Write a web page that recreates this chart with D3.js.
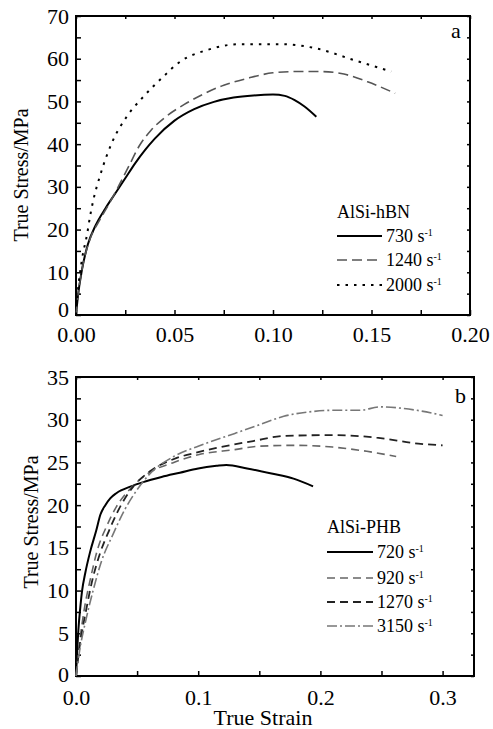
<!DOCTYPE html>
<html><head><meta charset="utf-8">
<script src="https://cdn.jsdelivr.net/npm/d3@7"></script>
<style>
body{margin:0;background:#fff;}
svg text{font-family:'Liberation Serif','DejaVu Serif',serif !important;fill:#000;}
</style></head>
<body>
<svg id="c" width="493" height="729" font-family="Liberation Serif, DejaVu Serif, serif"></svg>
<script>
// ---- Panel a data (AlSi-hBN) ----
const aXTicks = [0, 0.05, 0.10, 0.15, 0.20];
const aYTicks = [0, 10, 20, 30, 40, 50, 60, 70];
const aLabels = ["730", "1240", "2000"];
const a730 = [[0,0],[0.001,4.5],[0.003,10.5],[0.006,16.5],[0.01,21],[0.015,25],[0.02,28.5],[0.025,32],[0.03,35.5],[0.035,38.6],[0.04,41.3],[0.05,45.5],[0.06,48.2],[0.07,49.9],[0.08,50.9],[0.09,51.4],[0.1,51.6],[0.106,51.3],[0.111,50.3],[0.116,48.8],[0.122,46.4]];
const a1240 = [[0,0],[0.001,4.5],[0.003,10.5],[0.007,17.6],[0.012,22.2],[0.017,26.2],[0.022,30.5],[0.027,35],[0.032,39.5],[0.038,43.2],[0.045,46.2],[0.055,49.3],[0.065,51.8],[0.075,53.8],[0.087,55.4],[0.1,56.7],[0.112,57],[0.124,57],[0.136,56.4],[0.148,54.6],[0.162,51.9]];
const a2000 = [[0,0],[0.0007,4.3],[0.003,12.9],[0.0057,19.1],[0.0071,23],[0.0088,26.9],[0.0122,32.6],[0.0181,40.2],[0.0257,46.4],[0.0342,51.1],[0.0443,55.8],[0.0528,59.3],[0.0663,62],[0.083,63.4],[0.105,63.4],[0.122,62.4],[0.141,59.7],[0.16,57]];

// ---- Panel b data (AlSi-PHB) ----
const bXTicks = [0, 0.1, 0.2, 0.3];
const bYTicks = [0, 5, 10, 15, 20, 25, 30, 35];
const bLabels = ["720", "920", "1270", "3150"];
const b720 = [[0,0],[0.002,5.5],[0.0035,8],[0.005,10],[0.0075,12],[0.0115,14.5],[0.0165,17],[0.02,18.9],[0.024,20],[0.028,20.8],[0.033,21.4],[0.045,22.2],[0.055,22.7],[0.07,23.3],[0.085,23.8],[0.1,24.3],[0.115,24.6],[0.123,24.7],[0.14,24.3],[0.16,23.7],[0.178,23.1],[0.194,22.2]];
const b920 = [[0,0],[0.003,4],[0.007,8],[0.012,11.5],[0.018,15],[0.025,17.5],[0.033,19.8],[0.045,22],[0.06,23.8],[0.08,25],[0.1,25.9],[0.13,26.5],[0.15,26.9],[0.18,27],[0.21,26.8],[0.238,26.3],[0.262,25.7]];
const b1270 = [[0,0],[0.003,3.5],[0.008,7.5],[0.013,11],[0.02,14.5],[0.027,17],[0.035,19.5],[0.047,22.2],[0.06,23.9],[0.082,25.5],[0.1,26.2],[0.115,26.7],[0.145,27.5],[0.17,28.1],[0.21,28.2],[0.246,27.9],[0.28,27.2],[0.3,27.0]];
const b3150 = [[0,0],[0.003,3],[0.008,6.5],[0.014,10],[0.021,13.5],[0.03,16.5],[0.04,19.5],[0.05,21.8],[0.06,23.6],[0.08,25.7],[0.1,26.9],[0.13,28.4],[0.15,29.4],[0.17,30.4],[0.19,30.9],[0.21,31.1],[0.232,31.1],[0.249,31.5],[0.279,31.1],[0.3,30.5]];

const svg = d3.select("#c");
const FONT = "Liberation Serif, DejaVu Serif, serif";

function panel(cfg){
  const x = d3.scaleLinear().domain(cfg.xDom).range([cfg.left, cfg.right]);
  const y = d3.scaleLinear().domain(cfg.yDom).range([cfg.bottom, cfg.top]);
  const g = svg.append("g");
  const fmtX = d3.format(cfg.xFmt);
  g.append("g").attr("transform",`translate(0,${cfg.bottom})`)
    .call(d3.axisBottom(x).tickValues(cfg.xMinor).tickSize(-5).tickFormat(""))
    .call(a=>a.select(".domain").remove());
  g.append("g").attr("transform",`translate(0,${cfg.bottom})`)
    .call(d3.axisBottom(x).tickValues(cfg.xTicks).tickSize(0).tickPadding(cfg.xPad).tickFormat(fmtX))
    .attr("font-family",FONT)
    .call(a=>a.select(".domain").remove())
    .call(a=>a.selectAll("text").attr("font-size",22).attr("font-family",FONT));
  g.append("g").attr("transform",`translate(0,${cfg.top})`)
    .call(d3.axisTop(x).tickValues(cfg.xMinor).tickSize(-3).tickFormat(""))
    .call(a=>a.select(".domain").remove());
  g.append("g").attr("transform",`translate(${cfg.left},0)`)
    .call(d3.axisLeft(y).tickValues(cfg.yMinor).tickSize(-5).tickFormat(""))
    .call(a=>a.select(".domain").remove());
  g.append("g").attr("transform",`translate(${cfg.left},0)`)
    .call(d3.axisLeft(y).tickValues(cfg.yTicks).tickSize(0).tickPadding(7).tickFormat(d3.format("d")))
    .attr("font-family",FONT)
    .call(a=>a.select(".domain").remove())
    .call(a=>a.selectAll("text").attr("font-size",22).attr("font-family",FONT)
      .attr("y",d=>d===0?-cfg.zeroLift:0));
  g.append("g").attr("transform",`translate(${cfg.right},0)`)
    .call(d3.axisRight(y).tickValues(cfg.yMinor).tickSize(-3).tickFormat(""))
    .call(a=>a.select(".domain").remove());
  g.selectAll(".tick line").attr("stroke","#000").attr("stroke-width",1.5);
  g.append("rect").attr("x",cfg.left).attr("y",cfg.top)
    .attr("width",cfg.right-cfg.left).attr("height",cfg.bottom-cfg.top)
    .attr("fill","none").attr("stroke","#000").attr("stroke-width",2);

  const line = d3.line().x(d=>x(d[0])).y(d=>y(d[1])).curve(d3.curveMonotoneX);
  cfg.series.forEach(s=>{
    g.append("path").datum(s.data).attr("d",line).attr("fill","none")
      .attr("stroke",s.color).attr("stroke-width",s.w)
      .attr("stroke-dasharray",s.dash||null);
  });
  g.append("text").attr("x",cfg.right-19).attr("y",cfg.top+cfg.letterDy)
    .attr("font-size",22).attr("font-family",FONT).text(cfg.letter);
  g.append("text").attr("transform",`translate(${cfg.yTitleX},${cfg.yTitleY}) rotate(-90)`)
    .attr("text-anchor","middle").attr("font-size",20).attr("font-family",FONT).text("True Stress/MPa");
  const lg = g.append("g");
  lg.append("text").attr("x",cfg.legX).attr("y",cfg.legTitleY).attr("dy","0.35em")
    .attr("font-size",18).attr("font-family",FONT).text(cfg.legTitle);
  cfg.series.forEach((s,i)=>{
    const yy = cfg.legRows[i];
    lg.append("line").attr("x1",cfg.legX).attr("x2",cfg.legX+cfg.legLen).attr("y1",yy).attr("y2",yy)
      .attr("stroke",s.color).attr("stroke-width",s.w).attr("stroke-dasharray",s.dash||null);
    const t = lg.append("text").attr("x",cfg.legX+cfg.legLen+4).attr("y",yy).attr("dy","0.35em")
      .attr("font-size",18).attr("font-family",FONT);
    t.append("tspan").text(s.label+" s");
    t.append("tspan").attr("dy","-0.6em").attr("font-size",10).text("-1");
  });
  return {x,y};
}

panel({
  left:76, right:470, top:16, bottom:315,
  xDom:[0,0.20], yDom:[0,70],
  xTicks:aXTicks, yTicks:aYTicks, xPad:11, zeroLift:6,
  xMinor:d3.range(0,0.2001,0.025), yMinor:d3.range(0,70.1,5),
  xFmt:".2f", letter:"a", letterDy:22, yTitleX:28, yTitleY:175,
  legTitle:"AlSi-hBN", legX:337, legLen:45, legTitleY:212, legRows:[236,260,285],
  series:[
    {data:a730,label:aLabels[0],color:"#000",w:2},
    {data:a1240,label:aLabels[1],color:"#555",w:1.6,dash:"10,5"},
    {data:a2000,label:aLabels[2],color:"#000",w:2,dash:"2.5,6"}
  ]
});

panel({
  left:76, right:474, top:377, bottom:676,
  xDom:[0,0.3257], yDom:[0,35],
  xTicks:bXTicks, yTicks:bYTicks, xPad:13, zeroLift:2,
  xMinor:d3.range(0,0.3001,0.05), yMinor:d3.range(0,35.1,2.5),
  xFmt:".1f", letter:"b", letterDy:26, yTitleX:38, yTitleY:522,
  legTitle:"AlSi-PHB", legX:327, legLen:46, legTitleY:527, legRows:[552,578,602,626],
  series:[
    {data:b720,label:bLabels[0],color:"#000",w:2},
    {data:b920,label:bLabels[1],color:"#666",w:1.6,dash:"8,5"},
    {data:b1270,label:bLabels[2],color:"#222",w:1.8,dash:"8,5"},
    {data:b3150,label:bLabels[3],color:"#777",w:1.6,dash:"10,3,2,3"}
  ]
});

svg.append("text").attr("x",263).attr("y",725).attr("text-anchor","middle")
  .attr("font-size",22).attr("font-family",FONT).text("True Strain");
</script>
</body></html>
